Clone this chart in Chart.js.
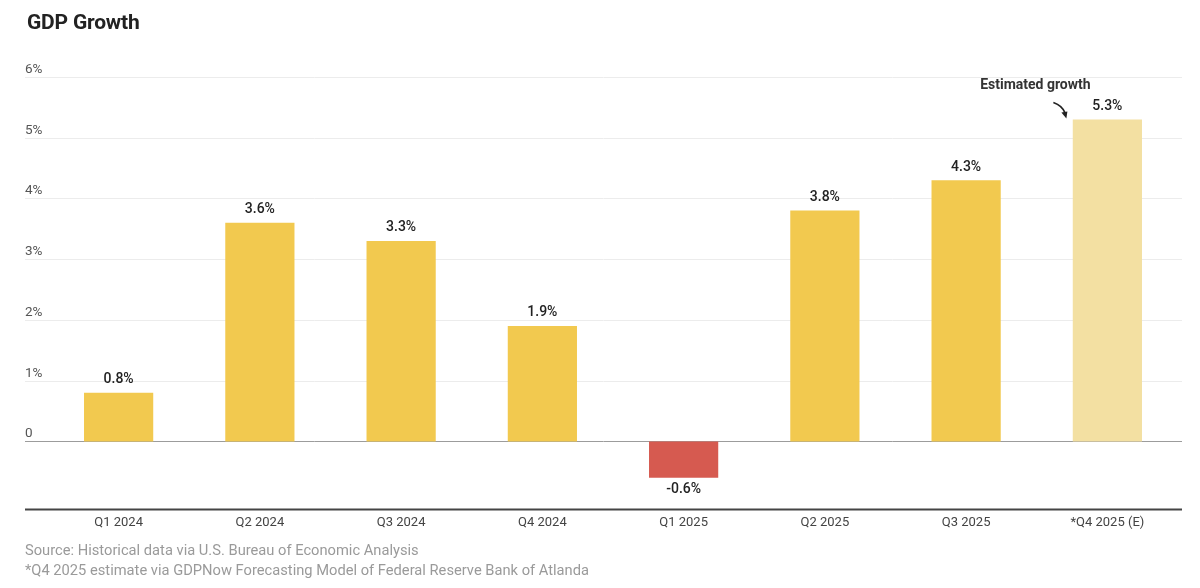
<!DOCTYPE html>
<html>
<head>
<meta charset="utf-8">
<style>
  html, body { margin: 0; padding: 0; background: #fff; }
  #wrap { position: relative; width: 1200px; height: 588px; font-family: Roboto, "Liberation Sans", sans-serif; }
  #chart { position: absolute; left: 0; top: 0; }
  .title { position: absolute; left: 27px; top: 10px; font-size: 21px; font-weight: 700; color: #222; letter-spacing: -0.2px; }
  .note { position: absolute; left: 25px; font-size: 14.7px; color: #9a9a9a; }
</style>
</head>
<body>
<div id="wrap">
  <canvas id="chart" width="1200" height="588"></canvas>
  <div class="title">GDP Growth</div>
  <div class="note" style="top:541px">Source: Historical data via U.S. Bureau of Economic Analysis</div>
  <div class="note" style="top:561px">*Q4 2025 estimate via GDPNow Forecasting Model of Federal Reserve Bank of Atlanda</div>
</div>
<script src="https://cdn.jsdelivr.net/npm/chart.js@4"></script>
<script>
const quarters = ['Q1 2024', 'Q2 2024', 'Q3 2024', 'Q4 2024', 'Q1 2025', 'Q2 2025', 'Q3 2025', '*Q4 2025 (E)'];
const growth = [0.8, 3.6, 3.3, 1.9, -0.6, 3.8, 4.3, 5.3];
const yTicks = [0, 1, 2, 3, 4, 5, 6];
const yTickLabels = ['0', '1%', '2%', '3%', '4%', '5%', '6%'];
const estimateNote = 'Estimated growth';

const YELLOW = '#f2c94f';
const RED = '#d65a50';
const PALE = '#f3e0a2';

let barColors = growth.map(function (v, i) {
    if (i === growth.length - 1) return PALE;
    return v < 0 ? RED : YELLOW;
});

// grid lines, y labels and axis lines, wider than the bar area
const gridPlugin = {
    id: 'grid',
    beforeDatasetsDraw(chart) {
        let ctx = chart.ctx;
        let y = chart.scales.y;
        let left = 25, right = 1182;
        ctx.save();
        y.ticks.forEach(function (t, i) {
            let py = Math.round(y.getPixelForValue(t.value)) + 0.5;
            ctx.beginPath();
            ctx.strokeStyle = t.value === 0 ? '#9c9c9c' : '#ececec';
            ctx.lineWidth = 1;
            ctx.moveTo(left, py);
            ctx.lineTo(right, py);
            ctx.stroke();
            ctx.fillStyle = '#555';
            ctx.font = '13.5px Roboto, sans-serif';
            ctx.textAlign = 'left';
            ctx.textBaseline = 'middle';
            ctx.fillText(yTickLabels[i], left, py - 8);
        });
        let by = chart.chartArea.bottom;
        ctx.beginPath();
        ctx.strokeStyle = '#444';
        ctx.lineWidth = 2;
        ctx.moveTo(left, by);
        ctx.lineTo(right, by);
        ctx.stroke();
        ctx.restore();
    }
};

// value labels and the estimate annotation
const labelPlugin = {
    id: 'labels',
    afterDatasetsDraw(chart) {
        let ctx = chart.ctx;
        let meta = chart.getDatasetMeta(0);
        ctx.save();
        ctx.fillStyle = '#222';
        ctx.font = '500 14px Roboto, sans-serif';
        ctx.textAlign = 'center';
        ctx.textBaseline = 'middle';
        meta.data.forEach(function (bar, i) {
            let v = growth[i];
            let ty = v < 0 ? bar.y + 12 : bar.y - 13;
            ctx.fillText(v.toFixed(1) + '%', bar.x, ty);
        });

        let last = meta.data[meta.data.length - 1];
        ctx.font = '700 14px Roboto, sans-serif';
        ctx.fillStyle = '#333';
        ctx.fillText(estimateNote, last.x - 72, last.y - 34);

        let x0 = last.x - 54, y0 = last.y - 17;
        let x1 = last.x - 42, y1 = last.y - 2;
        ctx.beginPath();
        ctx.strokeStyle = '#222';
        ctx.lineWidth = 1.8;
        ctx.moveTo(x0, y0);
        ctx.quadraticCurveTo(x0 + 9, y0 + 3, x1, y1 - 4);
        ctx.stroke();
        ctx.beginPath();
        ctx.fillStyle = '#222';
        ctx.moveTo(x1 + 1, y1 + 1);
        ctx.lineTo(x1 - 4, y1 - 5);
        ctx.lineTo(x1 + 2, y1 - 6);
        ctx.closePath();
        ctx.fill();
        ctx.restore();
    }
};

new Chart(document.getElementById('chart').getContext('2d'), {
    type: 'bar',
    data: {
        labels: quarters,
        datasets: [{
            data: growth,
            backgroundColor: barColors,
            barPercentage: 0.49,
            categoryPercentage: 1
        }]
    },
    options: {
        responsive: false,
        animation: false,
        layout: { padding: { left: 48, right: 22, top: 77, bottom: 51 } },
        plugins: { legend: { display: false }, tooltip: { enabled: false } },
        scales: {
            x: {
                grid: { display: false, drawTicks: false },
                border: { display: false },
                ticks: {
                    color: '#444',
                    padding: 6,
                    maxRotation: 0,
                    autoSkip: false,
                    font: { family: 'Roboto, sans-serif', size: 13 }
                }
            },
            y: {
                display: false,
                min: -1.12,
                max: 6,
                afterBuildTicks: function (scale) {
                    scale.ticks = yTicks.map(function (v) { return { value: v }; });
                }
            }
        }
    },
    plugins: [gridPlugin, labelPlugin]
});
</script>
</body>
</html>
